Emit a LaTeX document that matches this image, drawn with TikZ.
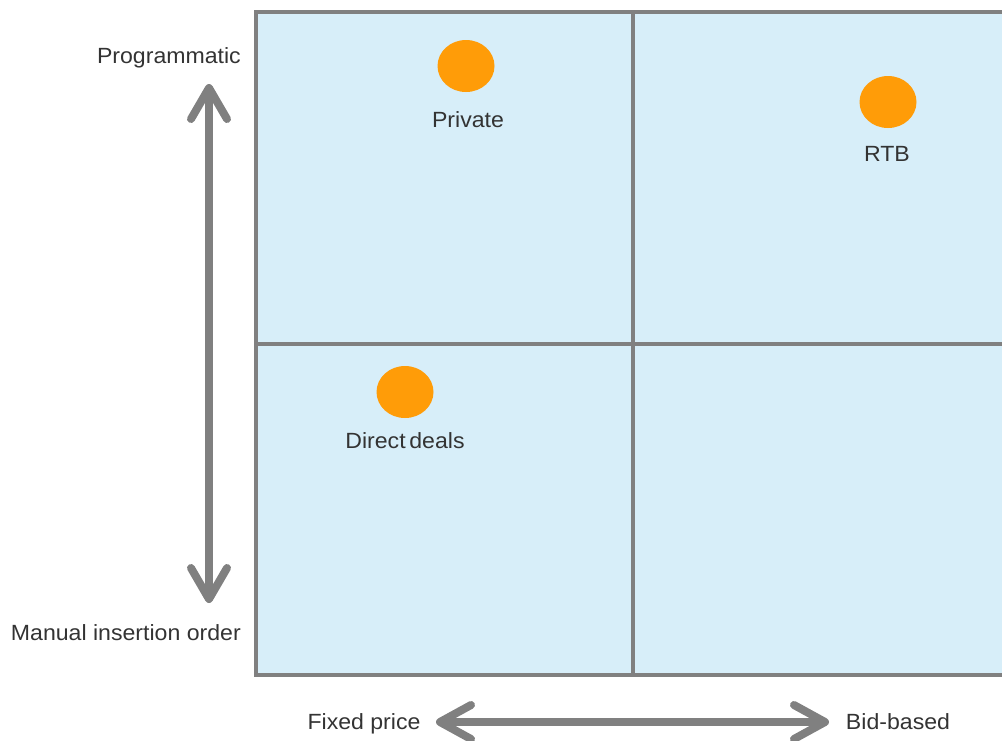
\documentclass[tikz,border=0pt]{standalone}
\usepackage{fontspec}
\setmainfont[FakeStretch=1.05]{Liberation Sans}
\usetikzlibrary{shapes.geometric}
\begin{document}
\definecolor{cellblue}{HTML}{D7EEF9}
\definecolor{gridgray}{HTML}{808080}
\definecolor{dotorange}{HTML}{FF9C08}
\definecolor{labelgray}{HTML}{333333}
\begin{tikzpicture}[x=1pt,y=-1pt,
  gridline/.style={draw=gridgray,line width=4pt},
  dot/.style={ellipse,fill=dotorange,minimum width=57pt,minimum height=52pt,inner sep=0pt},
  lbl/.style={font=\fontsize{22}{25}\selectfont,text=labelgray,inner sep=0pt},
  axisline/.style={draw=gridgray,line width=8pt},
  barb/.style={draw=gridgray,line width=8pt,line cap=round,line join=round}]
\useasboundingbox (0,0) rectangle (1002,740);
\clip (0,0) rectangle (1002,740);
% quadrant grid
\fill[cellblue] (256,12) rectangle (1010,675);
\draw[gridline] (1010,12) -- (256,12) -- (256,675) -- (1010,675);
\draw[gridline] (633,12) -- (633,675);
\draw[gridline] (256,344) -- (1010,344);
% market types
\node[dot] (private) at (466,66) {};
\node[dot] (rtb) at (888,102) {};
\node[dot] (direct) at (405,392) {};
\node[lbl,anchor=base] (privatel) at (468,127) {Private};
\node[lbl,anchor=base] (rtbl) at (887,161) {RTB};
\node[lbl,anchor=base] (directl) at (405,448) {Direct\,deals};
% axis labels
\node[lbl,anchor=base east] (prog) at (241,63) {Programmatic};
\node[lbl,anchor=base east] (manual) at (241,640) {Manual insertion order};
\node[lbl,anchor=base] (fixed) at (364,729) {Fixed price};
\node[lbl,anchor=base] (bid) at (898,729) {Bid-based};
% vertical axis arrow
\coordinate (vtop) at (209,88);
\coordinate (vbot) at (209,599);
\draw[axisline] (vtop) -- (vbot);
\draw[barb] (191,119) -- (vtop) -- (227,119);
\draw[barb] (191,568) -- (vbot) -- (227,568);
% horizontal axis arrow
\coordinate (hleft) at (440,722);
\coordinate (hright) at (825,722);
\draw[axisline] (hleft) -- (hright);
\draw[barb] (471,705) -- (hleft) -- (471,739);
\draw[barb] (794,705) -- (hright) -- (794,739);
\end{tikzpicture}
\end{document}
